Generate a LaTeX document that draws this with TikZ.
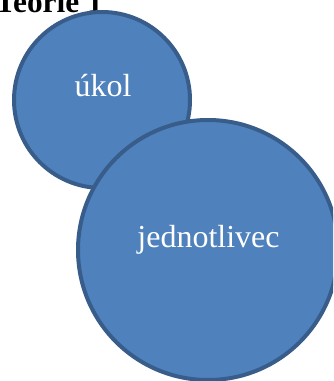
\documentclass[tikz,border=0pt]{standalone}
\usepackage{fontspec}
\setmainfont{Liberation Serif}
\usepackage{tikz}
\usetikzlibrary{positioning}
\definecolor{ofblue}{HTML}{4F81BD}
\definecolor{ofnavy}{HTML}{385D8A}
\tikzset{
  % kruhy
  kruh/.style={circle,draw=ofnavy,fill=ofblue,line width=3pt,inner sep=0pt},
  kmaly/.style={kruh,minimum size=132pt},
  kvelky/.style={kruh,minimum size=195pt},
  popis/.style={text=white,font=\fontsize{24}{28}\selectfont,inner sep=0pt},
  nadpis/.style={font=\fontsize{23.5}{27}\selectfont\bfseries,inner sep=0pt},
}
\begin{document}
\begin{tikzpicture}[x=0.75pt,y=-0.75pt]
  \useasboundingbox (0,0) rectangle (333,381);
  \clip (0,0) rectangle (333,381);
  \node[nadpis,anchor=base east] (titul) at (103,12.5) {Teorie 1};
  \node[kmaly] (ukol) at (102,100) {};
  \node[kvelky] (jedinec) at (208,250) {};
  \node[popis,anchor=base] (tukol) at (103,97) {úkol};
  \node[popis,anchor=base] (tjed) at (208.5,247) {jednotlivec};
\end{tikzpicture}
\end{document}
